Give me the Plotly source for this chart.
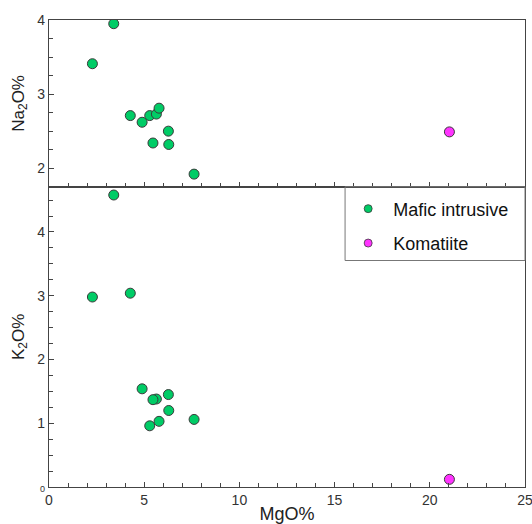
import plotly.graph_objects as go

# Mafic intrusive samples
mafic_mgo = [3.40, 2.28, 4.27, 4.89, 5.29, 5.64, 5.78, 5.46, 6.27, 6.29, 7.62]
mafic_na2o = [3.95, 3.41, 2.71, 2.62, 2.71, 2.73, 2.81, 2.34, 2.50, 2.32, 1.92]
mafic_k2o = [4.58, 2.98, 3.04, 1.54, 0.96, 1.38, 1.03, 1.37, 1.45, 1.20, 1.06]

# Komatiite sample
kom_mgo = [21.03]
kom_na2o = [2.49]
kom_k2o = [0.12]

series_names = ["Mafic intrusive", "Komatiite"]
green = "#00CC66"
magenta = "#FF33FF"
edge = "#3a3a3a"
FONT = "Liberation Sans, Arial, sans-serif"

fig = go.Figure()

for xs, ys, col, nm in [(mafic_mgo, mafic_na2o, green, series_names[0]),
                        (kom_mgo, kom_na2o, magenta, series_names[1])]:
    fig.add_trace(go.Scatter(x=xs, y=ys, mode="markers", xaxis="x2", yaxis="y2",
                             marker=dict(size=10, color=col, line=dict(color=edge, width=1)),
                             showlegend=False, name=nm))
for xs, ys, col, nm in [(mafic_mgo, mafic_k2o, green, series_names[0]),
                        (kom_mgo, kom_k2o, magenta, series_names[1])]:
    fig.add_trace(go.Scatter(x=xs, y=ys, mode="markers", xaxis="x", yaxis="y",
                             marker=dict(size=10, color=col, line=dict(color=edge, width=1)),
                             showlegend=False, name=nm))
# legend entries
for col, nm in [(green, series_names[0]), (magenta, series_names[1])]:
    fig.add_trace(go.Scatter(x=[None], y=[None], mode="markers", name=nm, legendgroup=nm,
                             marker=dict(size=8, color=col, line=dict(color=edge, width=0.8))))

split = 0.643
axcommon = dict(showline=True, linecolor="#444", linewidth=1.3, mirror=True, automargin=False,
                ticks="inside", ticklen=5, tickcolor="#444", showgrid=False, zeroline=False,
                ticklabeloverflow="allow",
                tickfont=dict(family=FONT, size=14, color="#333"))

fig.update_layout(
    width=532, height=524,
    margin=dict(l=49, r=7, t=20, b=37),
    paper_bgcolor="white", plot_bgcolor="white",
    font=dict(family=FONT, color="#222"),
    xaxis=dict(domain=[0, 1], range=[0, 25], anchor="y", dtick=5,
               minor=dict(dtick=1, ticks="inside", ticklen=4, tickcolor="#444"),
               title=dict(text="MgO%", font=dict(family=FONT, size=18, color="#222"), standoff=2),
               **axcommon),
    yaxis=dict(domain=[0, split], range=[0, 4.71], anchor="x", tickvals=[0, 1, 2, 3, 4],
               ticktext=["<span style='font-size:9px'>0</span>", "1", "2", "3", "4"],
               minor=dict(dtick=0.25, ticks="inside", ticklen=4, tickcolor="#444"),
               title=dict(text="K<sub>2</sub>O%", font=dict(family=FONT, size=17, color="#222"), standoff=8),
               **axcommon),
    xaxis2=dict(domain=[0, 1], range=[0, 25], anchor="y2", dtick=5, showticklabels=False,
                minor=dict(dtick=1, ticks="inside", ticklen=4, tickcolor="#444"),
                **axcommon),
    yaxis2=dict(domain=[split, 1], range=[1.75, 4.0], anchor="x2", dtick=1,
                minor=dict(dtick=0.25, ticks="inside", ticklen=4, tickcolor="#444"),
                title=dict(text="Na<sub>2</sub>O%", font=dict(family=FONT, size=17, color="#222"), standoff=8),
                **axcommon),
    legend=dict(x=0.618, y=split - 0.008, xanchor="left", yanchor="top", bgcolor="rgba(0,0,0,0)",
                borderwidth=0, font=dict(family=FONT, size=18, color="#111"),
                tracegroupgap=8, itemwidth=40),
    showlegend=True,
)

fig.add_shape(type="rect", xref="paper", yref="paper", x0=0.622, x1=1.0, y0=0.485, y1=split,
              line=dict(color="#777", width=1), fillcolor="rgba(0,0,0,0)", layer="above")

fig.write_html("out.html")
